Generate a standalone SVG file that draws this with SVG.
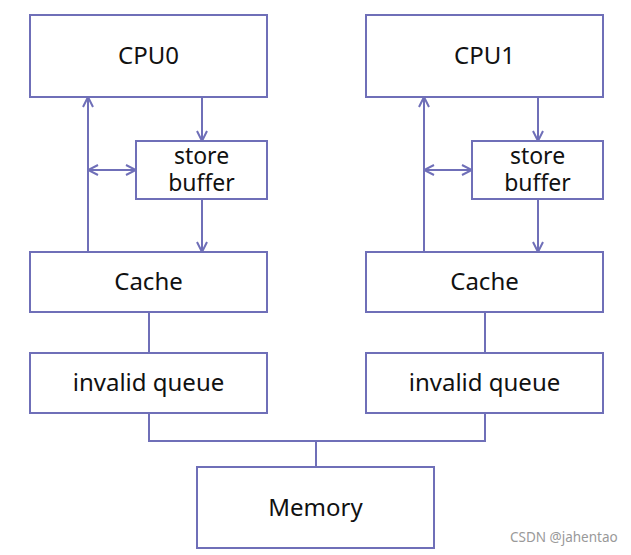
<svg xmlns="http://www.w3.org/2000/svg" width="631" height="555" viewBox="0 0 631 555">
<style>
.box{fill:#fff;stroke:#6f6fb8;stroke-width:2}
.ln{fill:none;stroke:#6f6fb8;stroke-width:2}
.t{font-family:"Noto Sans","Open Sans",sans-serif;font-size:24px;fill:#111;text-anchor:middle}
.s{font-size:23px}
.wm{font-family:"Noto Sans","Liberation Sans",sans-serif;font-size:13.5px;fill:#999}
</style>
<defs>
<marker id="ah" viewBox="0 0 12 12" refX="11" refY="6" markerWidth="12" markerHeight="12" markerUnits="userSpaceOnUse" orient="auto-start-reverse">
<path d="M1,1 L11,6 L1,11" fill="none" stroke="#6f6fb8" stroke-width="2"/>
</marker>
</defs>
<rect width="631" height="555" fill="#fff"/>
<g id="connectors">
<path class="ln" d="M88,252 V97" marker-end="url(#ah)"/>
<path class="ln" d="M88,170 H136" marker-start="url(#ah)" marker-end="url(#ah)"/>
<path class="ln" d="M202,97 V141" marker-end="url(#ah)"/>
<path class="ln" d="M202,199 V252" marker-end="url(#ah)"/>
<path class="ln" d="M149,312 V353"/>
<path class="ln" d="M424,252 V97" marker-end="url(#ah)"/>
<path class="ln" d="M424,170 H472" marker-start="url(#ah)" marker-end="url(#ah)"/>
<path class="ln" d="M538,97 V141" marker-end="url(#ah)"/>
<path class="ln" d="M538,199 V252" marker-end="url(#ah)"/>
<path class="ln" d="M485,312 V353"/>
<path class="ln" d="M149,414 V441 H485 V414"/>
<path class="ln" d="M316,441 V467"/>
</g>
<g id="cpu0"><rect class="box" x="30" y="15" width="237" height="82"/><text class="t" x="148.5" y="64">CPU0</text></g>
<g id="sb0"><rect class="box" x="136" y="141" width="131" height="58"/><text class="t s" x="201.5" y="164">store</text><text class="t s" x="201.5" y="191">buffer</text></g>
<g id="cache0"><rect class="box" x="30" y="252" width="237" height="60"/><text class="t" x="148.5" y="290">Cache</text></g>
<g id="iq0"><rect class="box" x="30" y="353" width="237" height="60"/><text class="t" x="148.5" y="391">invalid queue</text></g>
<g id="cpu1"><rect class="box" x="366" y="15" width="237" height="82"/><text class="t" x="484.5" y="64">CPU1</text></g>
<g id="sb1"><rect class="box" x="472" y="141" width="131" height="58"/><text class="t s" x="537.5" y="164">store</text><text class="t s" x="537.5" y="191">buffer</text></g>
<g id="cache1"><rect class="box" x="366" y="252" width="237" height="60"/><text class="t" x="484.5" y="290">Cache</text></g>
<g id="iq1"><rect class="box" x="366" y="353" width="237" height="60"/><text class="t" x="484.5" y="391">invalid queue</text></g>
<g id="memory"><rect class="box" x="197" y="467" width="237" height="81"/><text class="t" x="315.5" y="516">Memory</text></g>
<text class="wm" x="510" y="542">CSDN @jahentao</text>
</svg>
